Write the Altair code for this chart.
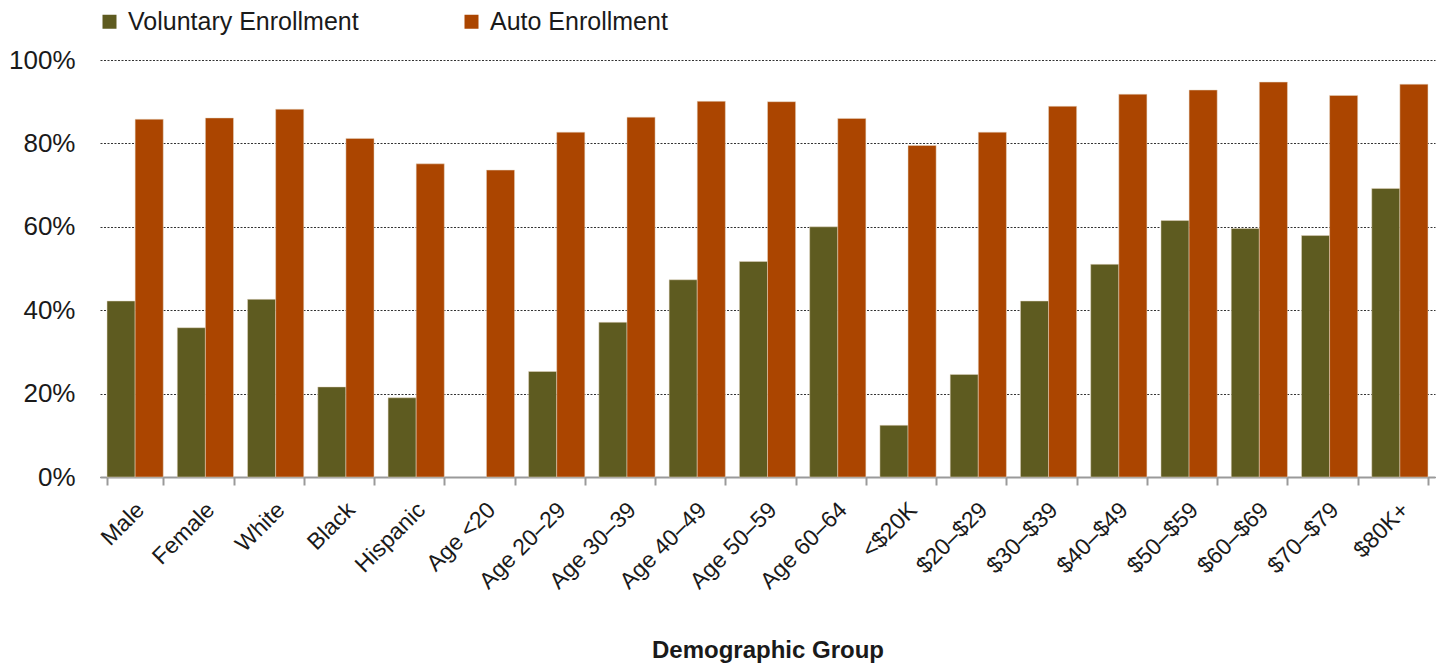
import altair as alt
import pandas as pd

# Enrollment rates by demographic group
groups = [
    "Male", "Female", "White", "Black", "Hispanic",
    "Age <20", "Age 20–29", "Age 30–39", "Age 40–49", "Age 50–59", "Age 60–64",
    "<$20K", "$20–$29", "$30–$39", "$40–$49", "$50–$59", "$60–$69", "$70–$79", "$80K+",
]
voluntary = [
    0.422, 0.358, 0.426, 0.216, 0.190,
    None, 0.253, 0.371, 0.473, 0.517, 0.600,
    0.124, 0.246, 0.422, 0.510, 0.615, 0.596, 0.579, 0.692,
]
auto = [
    0.858, 0.861, 0.882, 0.812, 0.751,
    0.736, 0.827, 0.863, 0.901, 0.900, 0.860,
    0.795, 0.827, 0.889, 0.918, 0.928, 0.947, 0.915, 0.942,
]
series = ["Voluntary Enrollment", "Auto Enrollment"]
colors = ["#5E5B20", "#AB4500"]

rows = []
for g, v, a in zip(groups, voluntary, auto):
    if v is not None:
        rows.append({"group": g, "series": series[0], "rate": v})
    rows.append({"group": g, "series": series[1], "rate": a})
df = pd.DataFrame(rows)

FONT = "Liberation Sans"

chart = (
    alt.Chart(df)
    .mark_bar(stroke="#E6D8C4", strokeWidth=0.5)
    .encode(
        x=alt.X(
            "group:N",
            sort=groups,
            scale=alt.Scale(paddingInner=0.2, paddingOuter=0.1),
            axis=alt.Axis(
                title="Demographic Group",
                titleFont=FONT,
                titleFontSize=24,
                titleFontWeight="bold",
                titleColor="#1a1a1a",
                titleY=173,
                titleBaseline="middle",
                labelFont=FONT,
                labelFontSize=23,
                labelColor="#1a1a1a",
                labelAngle=-45,
                labelAlign="right",
                labelBaseline="middle",
                labelPadding=21,
                labelOffset=5,
                labelLimit=0,
                domainColor="#9a9a9a",
                domainWidth=2,
                tickColor="#9a9a9a",
                tickWidth=2,
                tickSize=8,
                tickBand="extent",
                grid=False,
            ),
        ),
        xOffset=alt.XOffset("series:N", sort=series, scale=alt.Scale(domain=series)),
        y=alt.Y(
            "rate:Q",
            scale=alt.Scale(domain=[0, 1], nice=False),
            axis=alt.Axis(
                title=None,
                values=[0, 0.2, 0.4, 0.6, 0.8, 1.0],
                format=".0%",
                labelFont=FONT,
                labelFontSize=26,
                labelColor="#1a1a1a",
                labelPadding=25,
                ticks=False,
                domain=False,
                grid=True,
                gridColor="#333333",
                gridDash=[2, 1.5],
                gridWidth=1,
            ),
        ),
        color=alt.Color(
            "series:N",
            scale=alt.Scale(domain=series, range=colors),
            legend=alt.Legend(
                title=None,
                orient="none",
                direction="horizontal",
                legendX=-3,
                legendY=-51,
                symbolType="square",
                symbolSize=196,
                symbolStrokeWidth=0,
                symbolOpacity=1,
                labelFont=FONT,
                labelFontSize=25,
                labelColor="#1a1a1a",
                labelOffset=6,
                labelLimit=0,
                columnPadding=100,
                padding=0,
            ),
        ),
    )
    .properties(
        width=1335,
        height=417,
        autosize=alt.AutoSizeParams(type="none"),
        padding={"left": 100, "top": 60, "right": 6, "bottom": 189},
        background="white",
    )
    .configure_view(stroke=None)
)

chart.save("out.html", embed_options={"renderer": "svg", "actions": False})
